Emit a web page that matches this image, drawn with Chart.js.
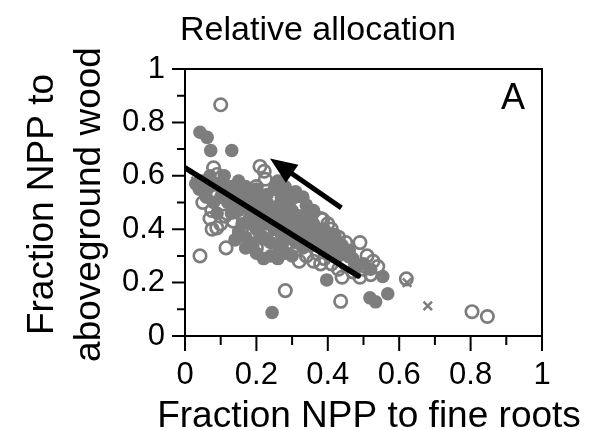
<!DOCTYPE html>
<html>
<head>
<meta charset="utf-8">
<script src="https://cdn.jsdelivr.net/npm/chart.js@4.4.1/dist/chart.umd.min.js"></script>
<style>
    body { margin: 0; background: #fff; }
    #wrap { width: 594px; height: 430px; }
</style>
</head>
<body>
<div id="wrap"><canvas id="allocChart"></canvas></div>
<script>
// values: [fraction to fine roots, fraction to aboveground wood]
var filledPoints = [
    [0.042,0.763],[0.062,0.744],[0.072,0.695],[0.131,0.695],[0.244,0.088],[0.397,0.21],
    [0.518,0.143],[0.534,0.128],[0.568,0.158],[0.554,0.223],
    [0.05,0.58],[0.07,0.56],[0.09,0.57],[0.11,0.55],[0.13,0.56],[0.15,0.54],[0.06,0.52],
    [0.08,0.5],[0.1,0.52],[0.12,0.5],[0.14,0.49],[0.16,0.51],[0.09,0.46],[0.13,0.46],
    [0.11,0.6],[0.15,0.58],[0.17,0.56],[0.07,0.6],[0.03,0.57],[0.04,0.55],
    [0.18,0.52],[0.2,0.5],[0.22,0.48],[0.19,0.46],[0.21,0.44],[0.24,0.46],[0.26,0.44],
    [0.23,0.42],[0.25,0.4],[0.28,0.42],[0.27,0.38],[0.29,0.4],[0.2,0.4],[0.18,0.42],
    [0.22,0.37],[0.24,0.35],[0.26,0.34],[0.28,0.36],[0.3,0.38],[0.17,0.37],[0.15,0.39],
    [0.2,0.55],[0.23,0.53],[0.25,0.55],[0.27,0.52],[0.29,0.5],[0.3,0.47],[0.32,0.45],
    [0.26,0.58],[0.28,0.56],[0.31,0.54],[0.33,0.52],[0.34,0.49],[0.36,0.47],
    [0.32,0.41],[0.34,0.39],[0.36,0.42],[0.31,0.35],[0.33,0.33],[0.35,0.36],[0.37,0.38],
    [0.39,0.4],[0.38,0.34],[0.4,0.36],[0.42,0.38],[0.41,0.32],[0.43,0.3],[0.3,0.3],
    [0.28,0.31],[0.44,0.34],[0.46,0.32],
    [0.456,0.31],[0.47,0.29],[0.5,0.27],[0.52,0.25],[0.48,0.26],
    [0.14,0.36],[0.17,0.33],[0.2,0.31],[0.22,0.29],[0.24,0.3],[0.26,0.29],[0.18,0.35],
    [0.13,0.52],[0.15,0.47],[0.17,0.49],[0.19,0.5],[0.21,0.52],[0.23,0.5],[0.25,0.48],
    [0.27,0.47],[0.29,0.45],[0.31,0.43],[0.33,0.42],[0.35,0.44],[0.16,0.42],[0.18,0.44],
    [0.22,0.45],[0.24,0.43],[0.26,0.41],[0.28,0.39],[0.3,0.4],[0.32,0.38],[0.34,0.36],
    [0.36,0.34],[0.38,0.37],[0.4,0.33],[0.42,0.35],[0.21,0.38],[0.23,0.36],[0.19,0.34],
    [0.29,0.54],[0.3,0.52],[0.27,0.5]
];
var openPoints = [
    [0.10,0.866],[0.08,0.63],[0.21,0.635],[0.222,0.617],[0.042,0.30],[0.281,0.17],
    [0.436,0.13],[0.62,0.214],[0.804,0.091],[0.847,0.073],[0.49,0.35],[0.527,0.28],
    [0.09,0.605],[0.225,0.587],[0.2,0.56],[0.075,0.47],[0.089,0.405],[0.112,0.449],
    [0.135,0.43],[0.115,0.33],[0.2,0.33],[0.076,0.40],
    [0.05,0.5],[0.06,0.55],[0.1,0.56],[0.12,0.53],[0.14,0.52],[0.07,0.44],[0.1,0.42],
    [0.16,0.45],[0.18,0.48],[0.2,0.45],[0.22,0.5],[0.24,0.52],[0.19,0.39],[0.23,0.39],
    [0.25,0.37],[0.27,0.33],[0.29,0.35],[0.31,0.38],[0.33,0.36],[0.35,0.34],[0.37,0.31],
    [0.39,0.29],[0.41,0.27],[0.43,0.25],[0.45,0.27],[0.47,0.24],[0.49,0.22],[0.5,0.25],
    [0.52,0.23],[0.54,0.26],[0.51,0.3],[0.46,0.3],[0.44,0.22],[0.42,0.3],[0.38,0.27],
    [0.36,0.28],[0.34,0.3],[0.32,0.28],[0.3,0.42],[0.28,0.45],[0.26,0.48],[0.32,0.48],
    [0.34,0.44],[0.38,0.44],[0.4,0.42],[0.36,0.4],[0.43,0.37],[0.45,0.35],
    [0.354,0.46],[0.386,0.436],[0.265,0.556],[0.41,0.4]
];
var crossPoints = [[0.622,0.2],[0.68,0.113],[0.03,0.58],[0.47,0.28]];

var fitX = [0, 0.485];
var fitY = [0.63, 0.225];

// arrow: tail then tip, in data units
var arrowX = [0.438, 0.238];
var arrowY = [0.48, 0.665];

var tickValues = [0, 0.1, 0.2, 0.3, 0.4, 0.5, 0.6, 0.7, 0.8, 0.9, 1];

var xTitle = 'Fraction NPP to fine roots';
var yTitle = ['Fraction NPP to', 'aboveground wood'];

var gray = 'rgb(125,125,125)';
var fontFam = "'Liberation Sans', Arial, sans-serif";

function toXY(list) {
    return list.map(function(p) { return {x: p[0], y: p[1]}; });
}

var framePlugin = {
    id: 'frame',
    afterDatasetsDraw: function(chart) {
        var ctx = chart.ctx, a = chart.chartArea;
        var xs = chart.scales.x, ys = chart.scales.y;
        ctx.save();

        // arrow
        var x0 = xs.getPixelForValue(arrowX[0]), y0 = ys.getPixelForValue(arrowY[0]);
        var x1 = xs.getPixelForValue(arrowX[1]), y1 = ys.getPixelForValue(arrowY[1]);
        var ang = Math.atan2(y1 - y0, x1 - x0);
        var headLen = 27, headW = 11;
        var bx = x1 - headLen * Math.cos(ang), by = y1 - headLen * Math.sin(ang);
        ctx.strokeStyle = '#000';
        ctx.lineWidth = 5;
        ctx.beginPath();
        ctx.moveTo(x0, y0);
        ctx.lineTo(bx + 4 * Math.cos(ang), by + 4 * Math.sin(ang));
        ctx.stroke();
        ctx.fillStyle = '#000';
        ctx.beginPath();
        ctx.moveTo(x1, y1);
        ctx.lineTo(bx + headW * Math.sin(ang), by - headW * Math.cos(ang));
        ctx.lineTo(bx - headW * Math.sin(ang), by + headW * Math.cos(ang));
        ctx.closePath();
        ctx.fill();

        // frame
        ctx.lineWidth = 2;
        ctx.strokeRect(a.left, a.top, a.right - a.left, a.bottom - a.top);

        // major and minor tick marks
        tickValues.forEach(function(v) {
            var major = Math.round(v * 10) % 2 === 0;
            var px = xs.getPixelForValue(v), py = ys.getPixelForValue(v);
            ctx.beginPath();
            ctx.moveTo(px, a.bottom);
            ctx.lineTo(px, a.bottom + (major ? 15 : 9));
            ctx.moveTo(a.left, py);
            ctx.lineTo(a.left - (major ? 13 : 8), py);
            ctx.stroke();
        });

        // titles
        ctx.fillStyle = '#000';
        ctx.textBaseline = 'alphabetic';
        ctx.font = '34px ' + fontFam;
        ctx.textAlign = 'center';
        ctx.fillText('Relative allocation', 318, 40);

        ctx.font = '37px ' + fontFam;
        ctx.fillText(xTitle, 369, 427);

        ctx.save();
        ctx.translate(53, (a.top + a.bottom) / 2 + 2);
        ctx.rotate(-Math.PI / 2);
        ctx.fillText(yTitle[0], 0, 0);
        ctx.fillText(yTitle[1], 0, 47);
        ctx.restore();

        ctx.font = '36px ' + fontFam;
        ctx.textAlign = 'right';
        ctx.fillText('A', 525, 109);
        ctx.restore();
    }
};

Chart.defaults.font.family = fontFam;
Chart.defaults.color = '#000';

function tickLabel(v) {
    return String(Math.round(v * 10) / 10);
}

var ctx = document.getElementById('allocChart').getContext('2d');
new Chart(ctx, {
    type: 'scatter',
    data: {
        datasets: [{
            type: 'line',
            label: 'fit',
            data: fitX.map(function(x, i) { return {x: x, y: fitY[i]}; }),
            borderColor: '#000',
            borderWidth: 5.5,
            borderCapStyle: 'round',
            pointRadius: 0,
            fill: false,
            order: 0
        }, {
            label: 'cross',
            data: toXY(crossPoints),
            pointStyle: 'crossRot',
            pointRadius: 6,
            borderColor: gray,
            borderWidth: 2.5,
            order: 1
        }, {
            label: 'open',
            data: toXY(openPoints),
            pointStyle: 'circle',
            pointRadius: 6.2,
            backgroundColor: 'rgba(0,0,0,0)',
            borderColor: gray,
            borderWidth: 2.7,
            order: 2
        }, {
            label: 'filled',
            data: toXY(filledPoints),
            pointStyle: 'circle',
            pointRadius: 6.8,
            backgroundColor: gray,
            borderWidth: 0,
            order: 3
        }]
    },
    options: {
        responsive: true,
        maintainAspectRatio: false,
        animation: false,
        layout: { padding: { top: 69, right: 52, left: 0, bottom: 0 } },
        plugins: { legend: { display: false }, tooltip: { enabled: false } },
        scales: {
            x: {
                type: 'linear',
                min: 0, max: 1,
                afterFit: function(s) { s.height = 94; },
                grid: { display: false, drawTicks: false },
                border: { display: false },
                ticks: { stepSize: 0.2, padding: 21, font: { size: 31 }, color: '#000', maxRotation: 0, callback: tickLabel }
            },
            y: {
                type: 'linear',
                min: 0, max: 1,
                afterFit: function(s) { s.width = 185; },
                grid: { display: false, drawTicks: false },
                border: { display: false },
                ticks: { stepSize: 0.2, padding: 20, font: { size: 31 }, color: '#000', callback: tickLabel }
            }
        }
    },
    plugins: [framePlugin]
});
</script>
</body>
</html>
